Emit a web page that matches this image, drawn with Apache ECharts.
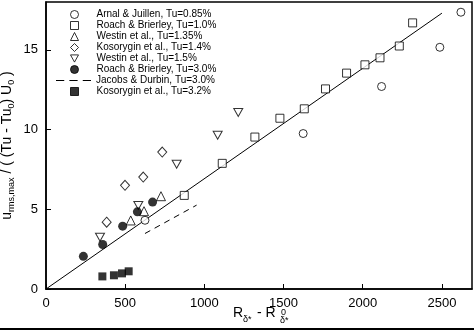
<!DOCTYPE html>
<html><head><meta charset="utf-8">
<script src="https://cdn.jsdelivr.net/npm/echarts@6/dist/echarts.min.js"></script>
<style>html,body{margin:0;padding:0;background:#fff}#c{width:474px;height:331px}</style>
</head><body><div id="c"></div>
<script>
// Data
const arnal = [[625,4.31],[1624,9.75],[2119,12.7],[2487,15.16],[2620,17.36]];
const roach10 = [[873,5.87],[1113,7.88],[1319,9.53],[1477,10.71],[1631,11.3],[1765,12.55],[1898,13.54],[2014,14.06],[2109,14.5],[2231,15.24],[2315,16.69]];
const westin135 = [[535,4.3],[619,4.88],[726,5.82]];
const kos14 = [[383,4.19],[499,6.5],[614,7.02],[734,8.59]];
const westin15 = [[341,3.25],[583,5.24],[825,7.82],[1084,9.64],[1214,11.07]];
const roach30 = [[236,2.05],[358,2.79],[484,3.94],[577,4.84],[673,5.45]];
const jacobs = [[625,3.48],[951,5.26]];
const kos32 = [[356,0.79],[429,0.86],[480,0.98],[522,1.11]];
const fitLine = [[0,0],[2500,17.3]];
const names = ['Arnal & Juillen, Tu=0.85%','Roach & Brierley, Tu=1.0%','Westin et al., Tu=1.35%','Kosorygin et al., Tu=1.4%','Westin et al., Tu=1.5%','Roach & Brierley, Tu=3.0%','Jacobs & Durbin, Tu=3.0%','Kosorygin et al., Tu=3.2%'];
const xTicks = [0,500,1000,1500,2000,2500];
const yTicks = [0,5,10,15];

const FONT = '"Liberation Sans", Arial, sans-serif';
const hollow = {color:'#fff', borderColor:'#000', borderWidth:1};
const filled = {color:'#000', borderColor:'#000', borderWidth:0};
function sc(name, data, symbol, size, style){
  return {type:'scatter', name, data, symbol, symbolSize:size, itemStyle:style, z:3, silent:true};
}
const legText = {fontFamily:FONT, fontSize:10, color:'#000', lineHeight:11};
const symLegend = (data, top) => ({
  data, orient:'vertical', left:70, top, itemWidth:8, itemHeight:8, itemGap:0, padding:0,
  itemStyle:{borderWidth:1},
  textStyle:Object.assign({padding:[0,0,0,13]}, legText), selectedMode:false
});
const dashIcon = 'path://M0,0h8v1h-8z M13,0h8v1h-8z M26,0h8v1h-8z';
const chart = echarts.init(document.getElementById('c'), null, {renderer:'canvas'});
chart.setOption({
  animation:false,
  textStyle:{fontFamily:FONT},
  grid:{left:46, right:2, top:2, bottom:42, containLabel:false, outerBoundsMode:'none',
    show:true, borderColor:'#000', borderWidth:1.5},
  legend:[
    symLegend(names.slice(0,6), 9),
    {data:[{name:names[6], icon:dashIcon}], orient:'vertical', left:56, top:75, itemWidth:35, itemHeight:1.2,
      itemGap:0, padding:0, textStyle:Object.assign({padding:[0,0,0,0]}, legText), selectedMode:false},
    symLegend(names.slice(7), 86)
  ],
  xAxis:{
    type:'value', min:0, max:2690, interval:500,
    axisLine:{lineStyle:{color:'#000', width:1.5}},
    axisTick:{inside:true, length:5, lineStyle:{color:'#000'}},
    axisLabel:{color:'#000', fontSize:13, fontFamily:FONT, margin:8, showMaxLabel:false,
      formatter:v=> xTicks.includes(v) ? String(v) : ''},
    splitLine:{show:false}
  },
  yAxis:{
    type:'value', min:0, max:18, interval:5,
    axisLine:{lineStyle:{color:'#000', width:1.5}},
    axisTick:{inside:true, length:5, lineStyle:{color:'#000'}},
    axisLabel:{color:'#000', fontSize:13, fontFamily:FONT, margin:8, showMaxLabel:false,
      formatter:v=> yTicks.includes(v) ? String(v) : ''},
    splitLine:{show:false},
    name:'{m|u}{s|rms,max}{m| / ( (Tu - Tu}{s|0}{m|) U}{s|0}{m| )}',
    nameLocation:'middle', nameRotate:90, nameGap:32, nameMoveOverlap:false,
    nameTextStyle:{rich:{
      m:{fontSize:14, fontFamily:FONT, color:'#000', verticalAlign:'top', lineHeight:14},
      s:{fontSize:9, fontFamily:FONT, color:'#000', verticalAlign:'top', lineHeight:10, padding:[7,0,0,0]}
    }}
  },
  graphic:[
    {type:'text', left:233, top:306, style:{text:'R', font:'14px '+FONT, fill:'#000'}},
    {type:'text', left:243, top:315, style:{text:'δ*', font:'9px '+FONT, fill:'#000'}},
    {type:'text', left:257, top:306, style:{text:'- R', font:'14px '+FONT, fill:'#000'}},
    {type:'text', left:281, top:308, style:{text:'0', font:'9px '+FONT, fill:'#000'}},
    {type:'text', left:280, top:316, style:{text:'δ*', font:'9px '+FONT, fill:'#000'}},
    {type:'rect', left:0, top:328, shape:{width:474, height:2}, style:{fill:'#000'}}
  ],
  series:[
    {type:'line', name:'fit', data:fitLine, symbol:'none', lineStyle:{color:'#000', width:1}, z:2, silent:true},
    sc(names[0], arnal, 'circle', 8, hollow),
    sc(names[1], roach10, 'rect', 8, hollow),
    sc(names[2], westin135, 'triangle', 9, hollow),
    sc(names[3], kos14, 'diamond', [9,10], hollow),
    sc(names[4], westin15, 'path://M0,0L10,0L5,9Z', [9,8], hollow),
    sc(names[5], roach30, 'circle', 9, filled),
    {type:'line', name:names[6], data:jacobs, symbol:'none', showSymbol:false,
      lineStyle:{color:'#000', width:1, type:[6,5]}, itemStyle:{color:'#000'}, z:2, silent:true},
    sc(names[7], kos32, 'rect', 8, filled)
  ]
});
</script></body></html>
